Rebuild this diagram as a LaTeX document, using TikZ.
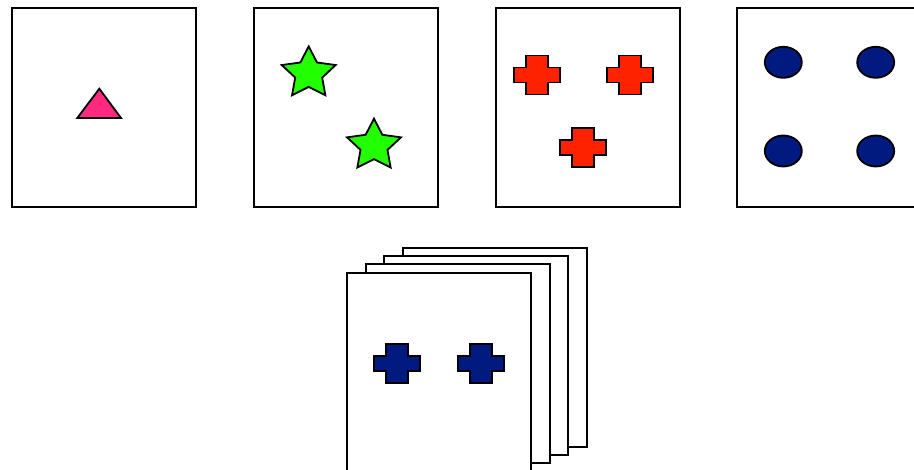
\documentclass[tikz,border=0pt]{standalone}
\definecolor{trpink}{RGB}{255,42,127}
\definecolor{stgreen}{RGB}{34,255,0}
\definecolor{crred}{RGB}{255,34,0}
\definecolor{dknavy}{RGB}{0,26,128}
\begin{document}
\begin{tikzpicture}[x=1pt,y=-1pt,
  card/.style={draw=black, fill=white, line width=1.8pt, minimum width=184pt, minimum height=199pt, inner sep=0pt, outer sep=0pt},
  shapeline/.style={draw=black, line width=1.8pt, line join=miter},
  pics/plus/.style={code={\path[pic actions] (-11pt,-19.5pt) -- (11pt,-19.5pt) -- (11pt,-7.5pt) -- (23pt,-7.5pt) -- (23pt,7.5pt) -- (11pt,7.5pt) -- (11pt,19.5pt) -- (-11pt,19.5pt) -- (-11pt,7.5pt) -- (-23pt,7.5pt) -- (-23pt,-7.5pt) -- (-11pt,-7.5pt) -- cycle;}},
  pics/fivestar/.style={code={\path[pic actions] (90:27pt) -- (126:13.5pt) -- (162:27pt) -- (198:13.5pt) -- (234:27pt) -- (270:13.5pt) -- (306:27pt) -- (342:13.5pt) -- (18:27pt) -- (54:13.5pt) -- cycle;}}]
\useasboundingbox (0,0) rectangle (914,470);
\clip (0,0) rectangle (914,470);
% top row of cards
\node[card] (c1) at (104,107.5) {};
\node[card] (c2) at (346,107.5) {};
\node[card] (c3) at (588,107.5) {};
\node[card] (c4) at (829,107.5) {};
% card 1: triangle
\draw[shapeline, fill=trpink] (99.3,88.7) -- (77.3,118) -- (121,118) -- cycle;
% card 2: stars
\pic[shapeline, fill=stgreen, xscale=1.05] (s1) at (308.7,73.4) {fivestar};
\pic[shapeline, fill=stgreen, xscale=1.05] (s2) at (374,145.7) {fivestar};
% card 3: red crosses
\pic[shapeline, fill=crred] (r1) at (536.7,75) {plus};
\pic[shapeline, fill=crred] (r2) at (630,75) {plus};
\pic[shapeline, fill=crred] (r3) at (583.3,147.2) {plus};
% card 4: ellipses
\draw[shapeline, fill=dknavy] (783.3,62.3) ellipse [x radius=18.5, y radius=15.5];
\draw[shapeline, fill=dknavy] (875.7,62.3) ellipse [x radius=18.5, y radius=15.5];
\draw[shapeline, fill=dknavy] (783.3,151) ellipse [x radius=18.5, y radius=15.5];
\draw[shapeline, fill=dknavy] (875.7,151) ellipse [x radius=18.5, y radius=15.5];
% stack of cards
\node[card] (k4) at (495,347.8) {};
\node[card] (k3) at (476.3,355.8) {};
\node[card] (k2) at (457.7,363.8) {};
\node[card] (k1) at (438.7,372.2) {};
\pic[shapeline, fill=dknavy] (b1) at (397.2,363.3) {plus};
\pic[shapeline, fill=dknavy] (b2) at (481.2,363.3) {plus};
\end{tikzpicture}
\end{document}
